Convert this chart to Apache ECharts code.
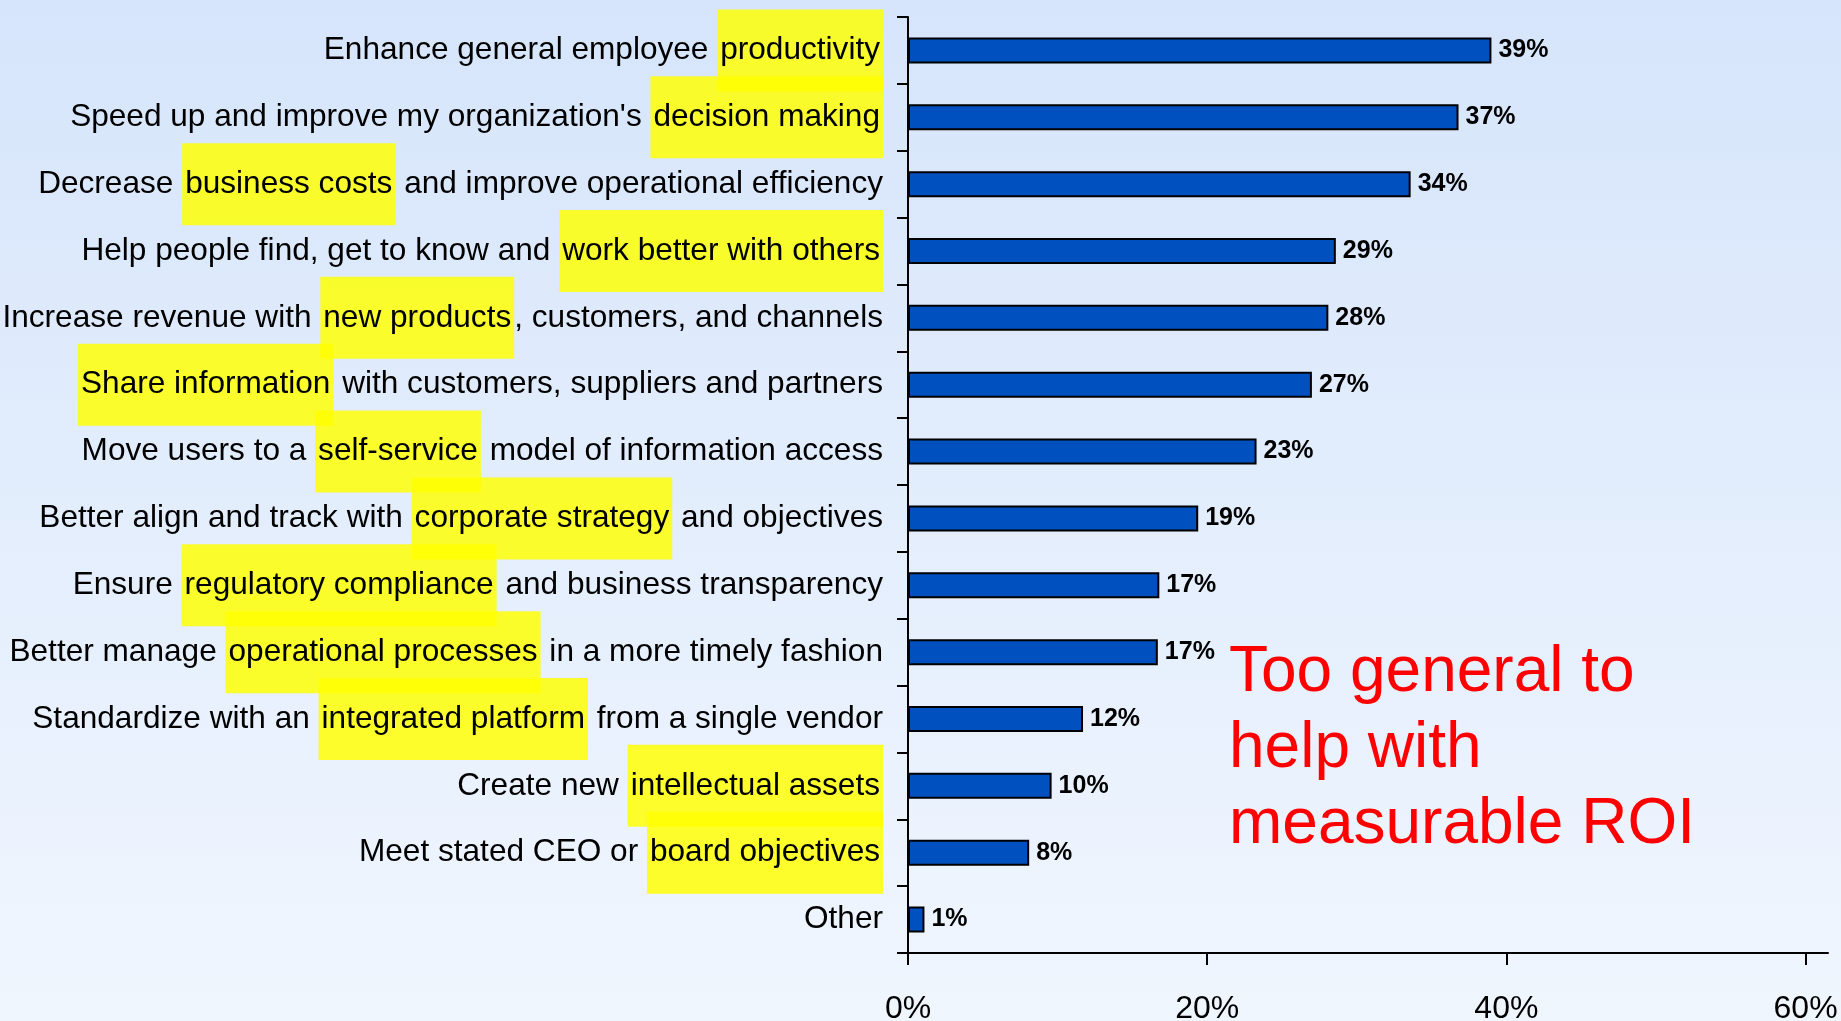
<!DOCTYPE html>
<html><head><meta charset="utf-8">
<script src="https://cdn.jsdelivr.net/npm/echarts@6/dist/echarts.min.js"></script>
<style>html,body{margin:0;padding:0;overflow:hidden;} #c{width:1841px;height:1021px;}</style>
</head><body><div id="c"></div>
<script>
const categories = [
  'Enhance general employee productivity',
  "Speed up and improve my organization's decision making",
  'Decrease business costs and improve operational efficiency',
  'Help people find, get to know and work better with others',
  'Increase revenue with new products, customers, and channels',
  'Share information with customers, suppliers and partners',
  'Move users to a self-service model of information access',
  'Better align and track with corporate strategy and objectives',
  'Ensure regulatory compliance and business transparency',
  'Better manage operational processes in a more timely fashion',
  'Standardize with an integrated platform from a single vendor',
  'Create new intellectual assets',
  'Meet stated CEO or board objectives',
  'Other'
];
const highlights = [
  'productivity', 'decision making', 'business costs', 'work better with others',
  'new products', 'Share information', 'self-service', 'corporate strategy',
  'regulatory compliance', 'operational processes', 'integrated platform',
  'intellectual assets', 'board objectives', ''
];
const values = [39.0, 36.8, 33.6, 28.6, 28.1, 27.0, 23.3, 19.4, 16.8, 16.7, 11.7, 9.6, 8.1, 1.1];
const xTicks = [0, 20, 40, 60];
const noteLines = ['Too general to', 'help with', 'measurable ROI'];

const SANS = '"Liberation Sans", Arial, sans-serif';
const chart = echarts.init(document.getElementById('c'));

function richLabel(label, i) {
  const hl = highlights[i];
  const k = hl ? label.indexOf(hl) : -1;
  if (k < 0) return '{t|' + label + '}';
  const parts = [];
  if (k > 0) parts.push('{t|' + label.slice(0, k) + '}');
  parts.push('{h|' + hl + '}');
  const rest = label.slice(k + hl.length);
  if (rest) parts.push('{t|' + rest + '}');
  return parts.join('');
}

chart.setOption({
  animation: false,
  backgroundColor: {
    type: 'linear', x: 0, y: 0, x2: 0, y2: 1,
    colorStops: [{offset: 0, color: '#D6E5FB'}, {offset: 1, color: '#F0F6FE'}]
  },
  grid: {left: 908, right: 13, top: 17, bottom: 68, outerBoundsMode: 'none', containLabel: false},
  xAxis: {
    type: 'value', min: 0, max: 61.5,
    axisLine: {show: true, lineStyle: {color: '#000', width: 2}},
    axisTick: {show: true, length: 12, customValues: xTicks, lineStyle: {color: '#000', width: 2}},
    axisLabel: {customValues: xTicks, formatter: v => v + '%', margin: 40, fontSize: 32, fontFamily: SANS, color: '#000'},
    splitLine: {show: false}
  },
  yAxis: {
    type: 'category', data: categories, inverse: true,
    axisLine: {show: true, lineStyle: {color: '#000', width: 2}},
    axisTick: {show: true, length: 11, lineStyle: {color: '#000', width: 2}},
    axisLabel: {
      interval: 0, margin: 25,
      formatter: (v, i) => richLabel(v, i),
      rich: {
        t: {fontFamily: SANS, fontSize: 31.6, color: '#000', verticalAlign: 'middle', lineHeight: 38},
        h: {fontFamily: SANS, fontSize: 31.6, color: '#000', verticalAlign: 'middle', lineHeight: 38,
            backgroundColor: 'rgba(255,255,0,0.83)', padding: [25, 3, 25, 3]}
      }
    }
  },
  series: [{
    type: 'bar', data: values, barWidth: 26,
    itemStyle: {color: '#0050C0', borderColor: '#000', borderWidth: 2},
    label: {show: true, position: 'right', distance: 7, formatter: p => Math.round(p.value) + '%',
            fontFamily: SANS, fontWeight: 'bold', fontSize: 25, color: '#000'}
  }],
  graphic: [{
    type: 'text', left: 1229, top: 635,
    style: {text: noteLines.join('\n'), fontSize: 64, fontFamily: SANS,
            fill: '#FF0000', lineHeight: 76}
  }]
});
</script></body></html>
